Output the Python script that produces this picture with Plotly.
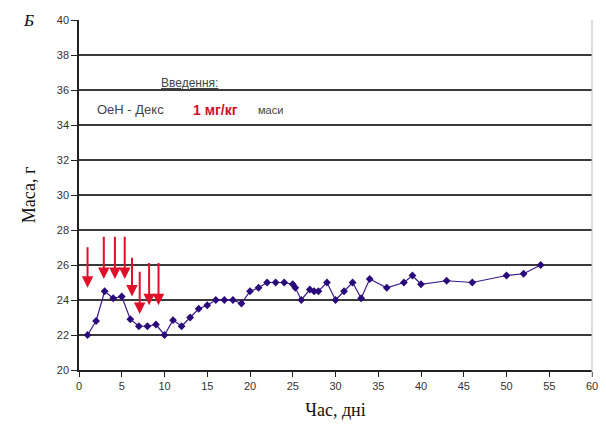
import plotly.graph_objects as go

days = [1, 2, 3, 4, 5, 6, 7, 8, 9, 10, 11, 12, 13, 14, 15, 16, 17, 18, 19, 20,
        21, 22, 23, 24, 25, 25.3, 26, 27, 27.5, 28, 29, 30, 31, 32, 33, 34,
        36, 38, 39, 40, 43, 46, 50, 52, 54]
mass = [22.0, 22.8, 24.5, 24.1, 24.2, 22.9, 22.5, 22.5, 22.6, 22.0, 22.85, 22.5,
        23.0, 23.5, 23.7, 24.0, 24.0, 24.0, 23.8, 24.5, 24.7, 25.0, 25.0, 25.0,
        24.9, 24.7, 24.0, 24.6, 24.5, 24.5, 25.0, 24.0, 24.5, 25.0, 24.1, 25.2,
        24.7, 25.0, 25.4, 24.9, 25.1, 25.0, 25.4, 25.5, 26.0]

inj_days = [1.0, 2.9, 4.2, 5.35, 6.2, 7.1, 8.2, 9.3]
inj_top = [27.1, 27.7, 27.7, 27.7, 26.5, 25.7, 26.2, 26.2]
inj_tip = [24.7, 25.2, 25.2, 25.2, 24.2, 23.2, 23.7, 23.7]

x_ticks = list(range(0, 61, 5))
y_ticks = list(range(20, 41, 2))

fig = go.Figure()
fig.add_trace(go.Scatter(
    x=days, y=mass, mode="lines+markers",
    line=dict(color="#3a1a8c", width=1.2),
    marker=dict(symbol="diamond", size=6, color="#2a0a7a"),
    showlegend=False, cliponaxis=False))

for d, t0, t1 in zip(inj_days, inj_top, inj_tip):
    fig.add_annotation(x=d, y=t1, ax=d, ay=t0, xref="x", yref="y", axref="x", ayref="y",
                       text="", showarrow=True, arrowhead=2, arrowsize=1.15,
                       arrowwidth=2, arrowcolor="#e0102a")

txt_font = "Liberation Sans, Arial"
fig.add_annotation(x=12.9, y=36.4, xref="x", yref="y", showarrow=False,
                   text="<u>Введення:</u>",
                   font=dict(family=txt_font, size=12, color="#444444"))
fig.add_annotation(x=1.86, y=34.86, xref="x", yref="y", showarrow=False, xanchor="left",
                   text="ОеН - Декс",
                   font=dict(family=txt_font, size=13, color="#444444"))
fig.add_annotation(x=13.1, y=34.86, xref="x", yref="y", showarrow=False, xanchor="left",
                   text="<b>1 мг/кг</b>",
                   font=dict(family=txt_font, size=14, color="#d0102a"))
fig.add_annotation(x=20.7, y=34.86, xref="x", yref="y", showarrow=False, xanchor="left",
                   text="маси",
                   font=dict(family=txt_font, size=11, color="#444444"))
fig.add_annotation(x=-0.098, y=1.0, xref="paper", yref="paper", showarrow=False,
                   xanchor="center", yanchor="middle",
                   text="<i>Б</i>",
                   font=dict(family="Liberation Serif, Times New Roman", size=17, color="#111111"))

fig.update_xaxes(range=[0, 60], tickvals=x_ticks, showgrid=False, zeroline=False,
                 showline=True, linecolor="#222222", linewidth=1.5,
                 ticks="outside", ticklen=5, tickcolor="#222222", tickwidth=1.2,
                 tickfont=dict(family=txt_font, size=11, color="#333333"),
                 title=dict(text="Час, дні", standoff=12,
                            font=dict(family="Liberation Serif, Times New Roman", size=18, color="#111111")))
fig.update_yaxes(range=[20, 40], tickvals=y_ticks, showgrid=True, gridcolor="#3a3a3a",
                 gridwidth=1.6, zeroline=False,
                 showline=True, linecolor="#222222", linewidth=1.5,
                 ticks="outside", ticklen=6, tickcolor="#222222", tickwidth=1.2,
                 tickfont=dict(family=txt_font, size=11, color="#333333"),
                 title=dict(text="Маса, г", standoff=16,
                            font=dict(family="Liberation Serif, Times New Roman", size=18, color="#111111")))

fig.add_shape(type="line", xref="paper", yref="paper", x0=1.0, x1=1.0, y0=-0.02, y1=1.0,
              line=dict(color="#bbbbbb", width=1))

fig.update_layout(width=606, height=430, margin=dict(l=79, r=8, t=20, b=60),
                  paper_bgcolor="white", plot_bgcolor="white")

fig.write_html("out.html")
